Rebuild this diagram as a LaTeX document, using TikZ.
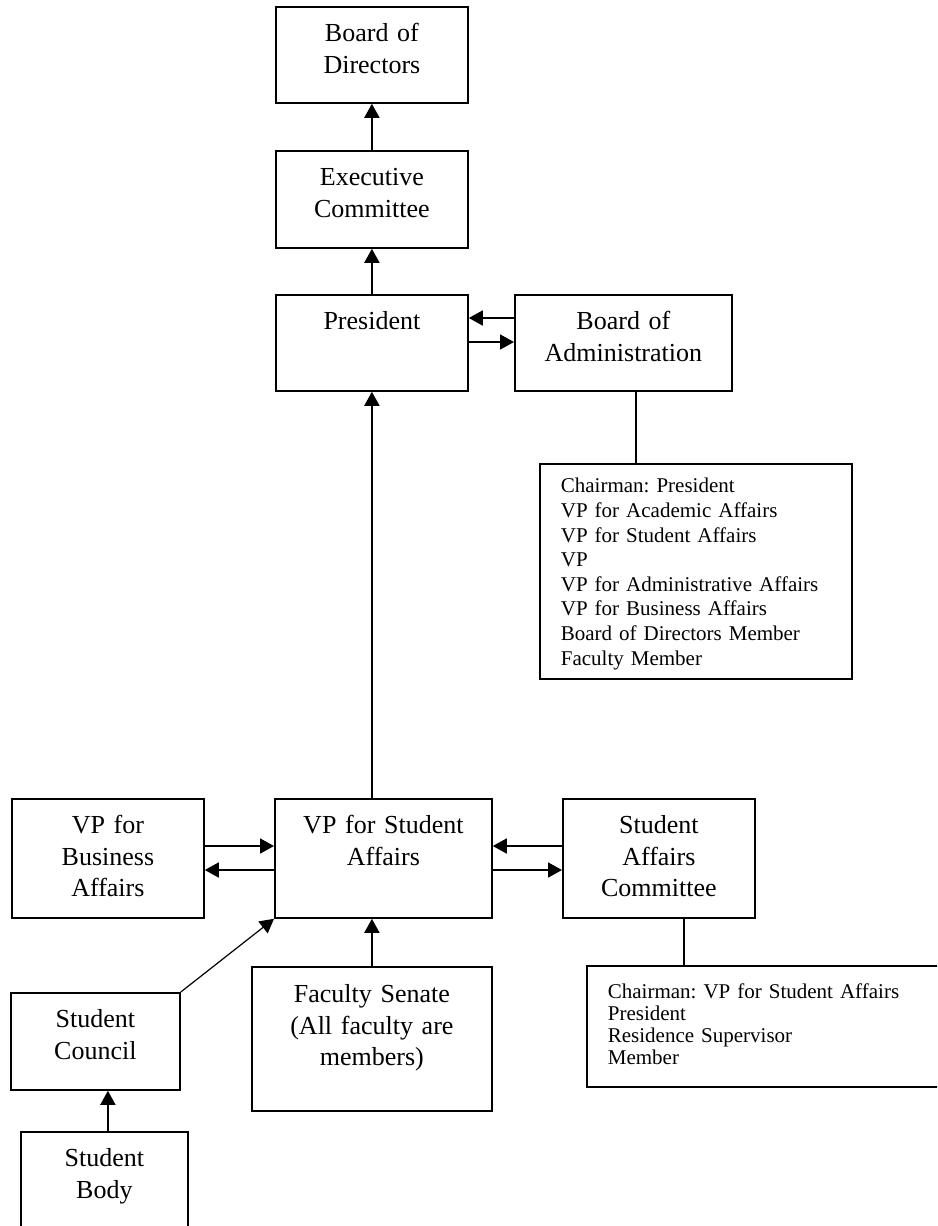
\documentclass[tikz,border=0pt]{standalone}
\usepackage{fontspec}
\setmainfont{Liberation Serif}
\usetikzlibrary{arrows.meta}
\frenchspacing

\begin{document}
\begin{tikzpicture}[x=1pt, y=-1pt, line width=1.8pt,
		unit_style/.style={draw=black, anchor=north west, inner sep=0pt, align=center,
			text height=35pt, font=\fontsize{26}{31.5}\selectfont},
		member_style/.style={draw=black, anchor=north west, inner ysep=0pt, inner xsep=21pt,
			align=left, font=\fontsize{21}{24.6}\selectfont},
		link_style/.style={draw=black, -{Triangle[length=14pt,width=15pt]}}]
		
		\useasboundingbox (0,0) rectangle (937,1226);
		\clip (0,0) rectangle (937,1226);
		
		\node[unit_style, text width=192pt, text depth=61pt] (bod) at (275,6) {Board of\\Directors};
		\node[unit_style, text width=192pt, text depth=62pt] (exec) at (275,150) {Executive\\Committee};
		\node[unit_style, text width=192pt, text depth=61pt] (pres) at (275,294) {President};
		\node[unit_style, text width=217pt, text depth=61pt] (boa) at (514,294) {Board of\\Administration};
		\node[member_style, text width=270pt, text height=29pt, text depth=186pt] (boam) at (539,463)
			{Chairman: President\\VP for Academic Affairs\\VP for Student Affairs\\VP\\VP for Administrative Affairs\\VP for Business Affairs\\Board of Directors Member\\Faculty Member};
		\node[unit_style, text width=192pt, text depth=84pt] (vpb) at (11,798) {VP for\\Business\\Affairs};
		\node[unit_style, text width=217pt, text depth=84pt] (vpsa) at (274,798) {VP for Student\\Affairs};
		\node[unit_style, text width=192pt, text depth=84pt] (sac) at (562,798) {Student\\Affairs\\Committee};
		\node[member_style, text width=339pt, text height=33pt, text depth=88pt,
			font=\fontsize{21}{22}\selectfont] (sacm) at (586,965)
			{Chairman: VP for Student Affairs\\President\\Residence Supervisor\\Member};
		\node[unit_style, text width=240pt, text height=36pt, text depth=108pt] (fs) at (251,966) {Faculty Senate\\(All faculty are\\members)};
		\node[unit_style, text width=169pt, text depth=62pt] (sc) at (10,992) {Student\\Council};
		\node[unit_style, text width=167pt, text depth=75pt] (sb) at (20,1131) {Student\\Body};
		
		\coordinate (boa_tap) at ([xshift=12.5pt]boa.south);
		\coordinate (sac_tap) at ([xshift=25pt]sac.south);
		\coordinate (sb_tap) at ([xshift=3.5pt]sb.north);
		
		\draw[link_style] (exec.north) -- (bod.south);
		\draw[link_style] (pres.north) -- (exec.south);
		\draw[link_style] (vpsa.north -| pres.south) -- (pres.south);
		\draw[link_style] ([yshift=-24pt]boa.north west) -- ([yshift=-24pt]pres.north east);
		\draw[link_style] ([yshift=-48pt]pres.north east) -- ([yshift=-48pt]boa.north west);
		\draw (boa_tap) -- (boa_tap |- boam.north);
		
		\draw[link_style] ([yshift=-48pt]vpb.north east) -- ([yshift=-48pt]vpsa.north west);
		\draw[link_style] ([yshift=-72pt]vpsa.north west) -- ([yshift=-72pt]vpb.north east);
		\draw[link_style] ([yshift=-48pt]sac.north west) -- ([yshift=-48pt]vpsa.north east);
		\draw[link_style] ([yshift=-72pt]vpsa.north east) -- ([yshift=-72pt]sac.north west);
		\draw (sac_tap) -- (sac_tap |- sacm.north);
		
		\draw[link_style] (fs.north) -- (fs.north |- vpsa.south);
		\draw[link_style, line width=1.2pt] (sc.north east) -- (vpsa.south west);
		\draw[link_style] (sb_tap) -- (sb_tap |- sc.south);
		
\end{tikzpicture}
\end{document}
